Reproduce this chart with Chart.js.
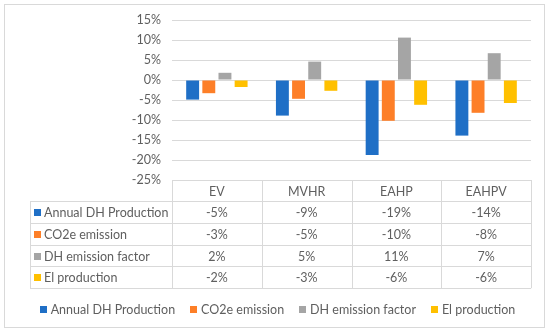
<!DOCTYPE html>
<html>
<head>
<meta charset="utf-8">
<script src="https://cdn.jsdelivr.net/npm/chart.js@4/dist/chart.umd.min.js"></script>
<style>
  html, body { margin: 0; padding: 0; background: #fff; }
  #wrap { position: relative; width: 550px; height: 333px; }
  #frame { position: absolute; left: 4px; top: 4px; width: 541px; height: 324px; border: 1px solid #d9d9d9; box-sizing: border-box; }
  canvas { position: absolute; left: 0; top: 0; }
</style>
</head>
<body>
<div id="wrap">
  <div id="frame"></div>
  <canvas id="chart" width="550" height="333"></canvas>
</div>
<script>
const categories = ['EV', 'MVHR', 'EAHP', 'EAHPV'];
const seriesNames = ['Annual DH Production', 'CO2e emission', 'DH emission factor', 'El production'];
const annualDH = [-4.9, -8.9, -18.75, -13.9];
const co2e = [-3.3, -4.7, -10.2, -8.2];
const dhFactor = [1.8, 4.6, 10.6, 6.7];
const elProd = [-1.75, -2.7, -6.2, -5.75];
const yTicks = [15, 10, 5, 0, -5, -10, -15, -20, -25];

const colors = ['#1f6fc6', '#fd7f28', '#a5a5a5', '#ffc000'];
const textColor = '#5f5f5f';
const lineColor = '#d9d9d9';
const FONT = 'Lato, "Open Sans", sans-serif';
const FONT_SIZE = 12.5;

const allSeries = [annualDH, co2e, dhFactor, elProd];

/* data table under the plot (column edges from the x scale) + bottom legend */
const dataTable = {
  id: 'dataTable',
  afterDraw(chart) {
    const ctx = chart.ctx;
    const x = chart.scales.x;
    const area = chart.chartArea;
    const colW = (area.right - area.left) / categories.length;
    const top = area.bottom;
    const headH = 21;
    const rowH = 21.8;
    const leftX = 30;
    const bottom = top + headH + rowH * allSeries.length;
    ctx.save();
    ctx.strokeStyle = lineColor;
    ctx.lineWidth = 1;
    ctx.beginPath();
    ctx.moveTo(area.left, top + 0.5); ctx.lineTo(area.right, top + 0.5);
    for (let r = 0; r <= allSeries.length; r++) {
      const y = Math.round(top + headH + rowH * r) + 0.5;
      ctx.moveTo(leftX, y); ctx.lineTo(area.right, y);
    }
    ctx.moveTo(leftX + 0.5, top + headH); ctx.lineTo(leftX + 0.5, bottom);
    for (let c = 0; c <= categories.length; c++) {
      const px = Math.round(area.left + colW * c) + 0.5;
      ctx.moveTo(px, top); ctx.lineTo(px, bottom);
    }
    ctx.stroke();

    ctx.font = FONT_SIZE + 'px ' + FONT;
    ctx.fillStyle = textColor;
    ctx.textAlign = 'center';
    ctx.textBaseline = 'middle';
    categories.forEach((c, i) => {
      ctx.fillText(c, x.getPixelForValue(i), top + headH / 2 + 1);
    });
    allSeries.forEach((vals, r) => {
      const cy = top + headH + rowH * r + rowH / 2 + 1;
      ctx.fillStyle = colors[r];
      ctx.fillRect(34, Math.round(cy - 4), 7, 7);
      ctx.fillStyle = textColor;
      ctx.textAlign = 'left';
      ctx.fillText(seriesNames[r], 44, cy);
      ctx.textAlign = 'center';
      vals.forEach((v, i) => {
        ctx.fillText(Math.round(v) + '%', x.getPixelForValue(i), cy);
      });
    });

    // legend
    const box = 7, boxGap = 4, itemGap = 15;
    const widths = seriesNames.map(n => ctx.measureText(n).width);
    const total = widths.reduce((a, w) => a + box + boxGap + w, 0) + itemGap * (seriesNames.length - 1);
    let lx = 277.5 - total / 2;
    const ly = 310;
    ctx.textAlign = 'left';
    seriesNames.forEach((n, i) => {
      ctx.fillStyle = colors[i];
      ctx.fillRect(Math.round(lx), ly - 4, box, box);
      lx += box + boxGap;
      ctx.fillStyle = textColor;
      ctx.fillText(n, lx, ly);
      lx += widths[i] + itemGap;
    });
    ctx.restore();
  }
};

new Chart(document.getElementById('chart'), {
  type: 'bar',
  data: {
    labels: categories,
    datasets: allSeries.map((vals, i) => ({
      label: seriesNames[i],
      data: vals,
      backgroundColor: colors[i],
      barPercentage: 0.8,
      categoryPercentage: 0.72
    }))
  },
  options: {
    responsive: false,
    animation: false,
    layout: { padding: { left: 0, right: 19, top: 20, bottom: 153 } },
    plugins: {
      legend: { display: false },
      tooltip: { enabled: false }
    },
    scales: {
      x: { display: false },
      y: {
        min: -25, max: 15,
        afterFit(scale) { scale.width = 172; },
        afterBuildTicks(scale) { scale.ticks = yTicks.map(v => ({ value: v })); },
        border: { display: false },
        grid: { color: lineColor, drawTicks: false },
        ticks: {
          padding: 11, color: textColor,
          font: { family: FONT, size: FONT_SIZE },
          callback: v => v + '%'
        }
      }
    }
  },
  plugins: [dataTable]
});
</script>
</body>
</html>
